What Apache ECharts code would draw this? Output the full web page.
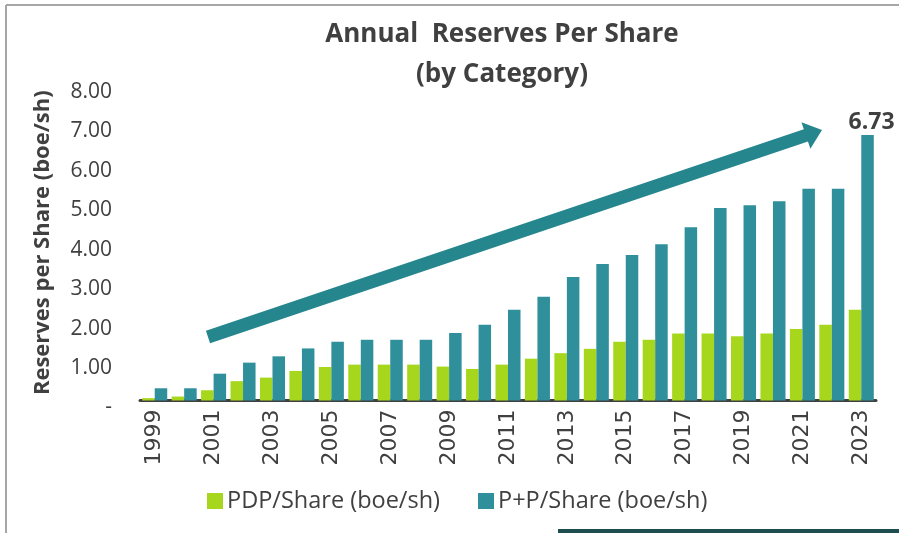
<!DOCTYPE html>
<html><head><meta charset="utf-8">
<script src="https://cdn.jsdelivr.net/npm/echarts@6/dist/echarts.min.js"></script>
<style>html,body{margin:0;padding:0;background:#fff}#c{width:899px;height:533px}</style>
</head><body><div id="c"></div>
<script>
const years = ['1999','2000','2001','2002','2003','2004','2005','2006','2007','2008','2009','2010','2011','2012','2013','2014','2015','2016','2017','2018','2019','2020','2021','2022','2023'];
const pdp = [0.06,0.10,0.26,0.49,0.58,0.75,0.85,0.91,0.91,0.91,0.86,0.80,0.91,1.06,1.20,1.31,1.49,1.54,1.70,1.70,1.63,1.70,1.81,1.92,2.30];
const pp  = [0.31,0.31,0.68,0.96,1.12,1.32,1.49,1.54,1.54,1.54,1.71,1.92,2.30,2.63,3.13,3.46,3.69,3.96,4.39,4.88,4.95,5.05,5.37,5.37,6.73];
const seriesNames = ['PDP/Share (boe/sh)','P+P/Share (boe/sh)'];
const titleLines = ['Annual  Reserves Per Share','(by Category)'];

const green = '#a6d71c', teal = '#2f8f9a', arrowC = '#26868d', txt = '#404040';

function arrowPts(x0,y0,x1,y1,w,hw,hl){
  const dx=x1-x0, dy=y1-y0, L=Math.hypot(dx,dy), ux=dx/L, uy=dy/L, nx=-uy, ny=ux;
  const bx=x1-ux*hl, by=y1-uy*hl;
  return [[x0+nx*w/2,y0+ny*w/2],[bx+nx*w/2,by+ny*w/2],[bx+nx*hw/2,by+ny*hw/2],[x1,y1],
          [bx-nx*hw/2,by-ny*hw/2],[bx-nx*w/2,by-ny*w/2],[x0-nx*w/2,y0-ny*w/2]];
}

const chart = echarts.init(document.getElementById('c'));
chart.setOption({
  animation:false,
  title:{text:titleLines.join('\n'),left:497,top:10,textAlign:'center',
    textStyle:{fontFamily:'Open Sans',fontWeight:'bold',fontSize:26,color:txt,lineHeight:40}},
  grid:{left:140,right:23,top:85,bottom:132.5,containLabel:false},
  legend:{top:484,left:202,itemWidth:16,itemHeight:16,itemGap:38,icon:'rect',
    textStyle:{fontFamily:'Open Sans',fontSize:23.5,color:txt,padding:[0,0,0,-1]},
    data:seriesNames},
  xAxis:{type:'category',data:years,
    axisLine:{lineStyle:{color:'#404040',width:3}},axisTick:{show:false},
    axisLabel:{interval:1,rotate:90,fontFamily:'DejaVu Sans',fontSize:22,color:txt,margin:9}},
  yAxis:{type:'value',min:0,max:8,interval:1,
    name:'Reserves per Share (boe/sh)',nameLocation:'middle',nameGap:86,nameRotate:90,
    nameTextStyle:{fontFamily:'Open Sans',fontWeight:'bold',fontSize:22,color:txt},
    splitLine:{show:false},axisLine:{show:false},axisTick:{show:false},
    axisLabel:{fontFamily:'Open Sans',fontSize:21,color:txt,margin:28,verticalAlign:'top',lineHeight:14,
      formatter:v=>v===0?'-':v.toFixed(2)}},
  series:[
    {name:seriesNames[0],type:'bar',data:pdp,itemStyle:{color:green},barGap:'0%',barCategoryGap:'15%'},
    {name:seriesNames[1],type:'bar',data:pp,itemStyle:{color:teal},barGap:'0%',barCategoryGap:'15%',
      label:{show:true,position:'top',formatter:p=>p.dataIndex===pp.length-1?p.value.toFixed(2):'',
        fontFamily:'Open Sans',fontWeight:'bold',fontSize:23,color:txt,offset:[4,4]}}
  ],
  graphic:[
    {type:'polygon',shape:{points:arrowPts(208,337,822,130,13,28,17)},style:{fill:arrowC},z:10},
    {type:'line',shape:{x1:6,y1:5,x2:899,y2:5},style:{stroke:'#a6a6a6',lineWidth:2}},
    {type:'line',shape:{x1:6,y1:5,x2:6,y2:533},style:{stroke:'#a6a6a6',lineWidth:2}},
    {type:'rect',shape:{x:558,y:529,width:341,height:4},style:{fill:'#1d4d4f'}}
  ]
});
</script></body></html>
